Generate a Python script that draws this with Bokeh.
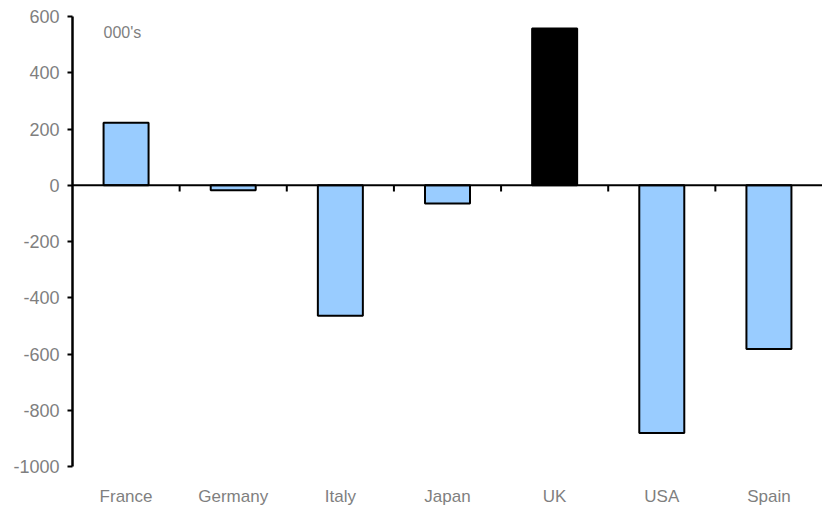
from bokeh.plotting import figure
from bokeh.models import ColumnDataSource, Range1d, FixedTicker, Span, Label
from bokeh.embed import file_html
from bokeh.resources import INLINE

categories = ["France", "Germany", "Italy", "Japan", "UK", "USA", "Spain"]
values = [222, -18, -464, -65, 557, -881, -582]
y_ticks = [-1000, -800, -600, -400, -200, 0, 200, 400, 600]
highlight = "UK"
unit_note = "000's"

FONT = "Liberation Sans"
GREY = "#7f7f7f"

xs = [i + 0.5 for i in range(len(categories))]
colors = ["black" if c == highlight else "#99ccff" for c in categories]
src = ColumnDataSource(dict(x=xs, top=values, color=colors, cat=categories))

p = figure(width=822, height=508, output_backend="svg", toolbar_location=None,
           x_range=Range1d(0, len(categories)), y_range=Range1d(-1000, 600),
           min_border_left=72, min_border_right=0, min_border_top=16, min_border_bottom=38)
p.outline_line_color = None
p.grid.visible = False
p.background_fill_color = "white"
p.border_fill_color = "white"

p.vbar(x="x", top="top", bottom=0, width=0.42, source=src,
       fill_color="color", line_color="black", line_width=2)

# zero line
p.add_layout(Span(location=0, dimension="width", line_color="black", line_width=2))
# tick marks on zero line at category boundaries
bounds = list(range(1, len(categories)))
p.segment(x0=bounds, x1=bounds, y0=[0] * len(bounds), y1=[-22] * len(bounds),
          line_color="black", line_width=2)

# y axis
ya = p.yaxis[0]
ya.ticker = FixedTicker(ticks=y_ticks)
ya.major_label_overrides = {v: str(v) for v in y_ticks}
ya.axis_line_color = "black"
ya.axis_line_width = 2.5
ya.major_tick_line_color = "black"
ya.major_tick_line_width = 2
ya.major_tick_out = 5
ya.major_tick_in = 0
ya.minor_tick_line_color = None
ya.major_label_text_font = FONT
ya.major_label_text_font_size = "18px"
ya.major_label_text_color = GREY
ya.major_label_standoff = 8

# x axis (labels only)
xa = p.xaxis[0]
xa.ticker = FixedTicker(ticks=xs)
xa.major_label_overrides = {x: c for x, c in zip(xs, categories)}
xa.axis_line_color = None
xa.major_tick_line_color = None
xa.minor_tick_line_color = None
xa.major_label_text_font = FONT
xa.major_label_text_font_size = "17px"
xa.major_label_text_color = GREY
xa.major_label_standoff = 14

p.add_layout(Label(x=0.29, y=544, text=unit_note,
                   text_font=FONT, text_font_size="16px", text_color=GREY,
                   text_baseline="middle"))

open("out.html", "w").write(file_html(p, INLINE))
